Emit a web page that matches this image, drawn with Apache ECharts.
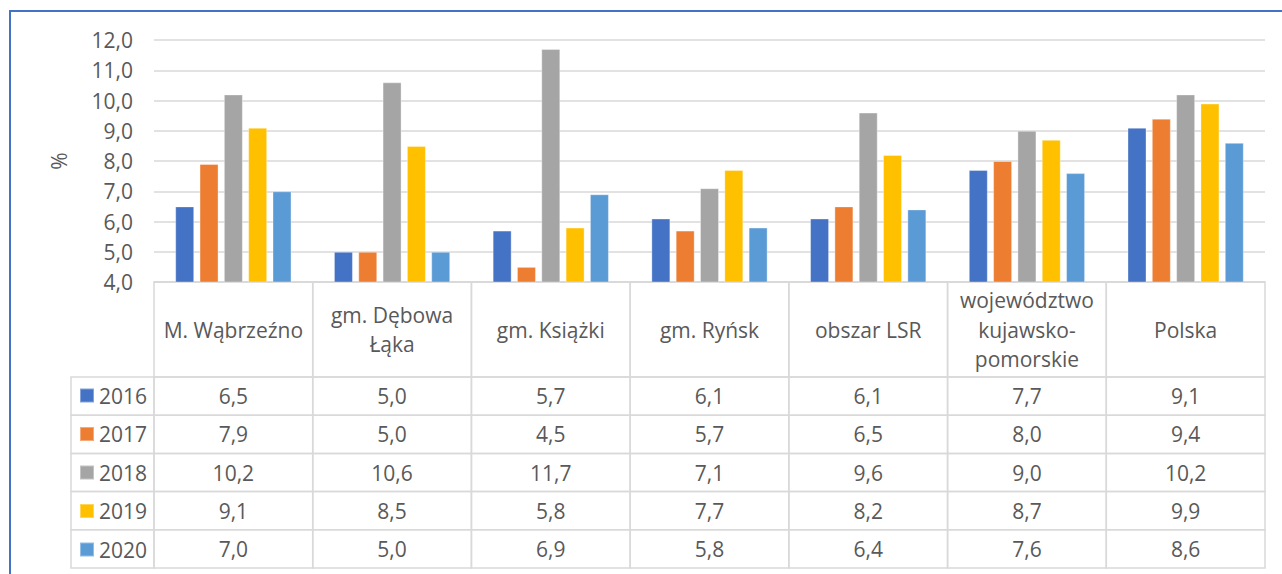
<!DOCTYPE html>
<html lang="pl">
<head>
<meta charset="utf-8">
<title>Stopa bezrobocia</title>
<script src="https://cdn.jsdelivr.net/npm/echarts@6/dist/echarts.min.js"></script>
<style>
  html, body { margin: 0; padding: 0; background: #fff; }
  #chart { width: 1282px; height: 574px; }
</style>
</head>
<body>
<div id="chart"></div>
<script>
  // dane
  const categories = ['M. Wąbrzeźno', 'gm. Dębowa\nŁąka', 'gm. Książki', 'gm. Ryńsk', 'obszar LSR', 'województwo\nkujawsko-\npomorskie', 'Polska'];
  const years = ['2016', '2017', '2018', '2019', '2020'];
  const v2016 = [6.5, 5.0, 5.7, 6.1, 6.1, 7.7, 9.1];
  const v2017 = [7.9, 5.0, 4.5, 5.7, 6.5, 8.0, 9.4];
  const v2018 = [10.2, 10.6, 11.7, 7.1, 9.6, 9.0, 10.2];
  const v2019 = [9.1, 8.5, 5.8, 7.7, 8.2, 8.7, 9.9];
  const v2020 = [7.0, 5.0, 6.9, 5.8, 6.4, 7.6, 8.6];
  const yearValues = [v2016, v2017, v2018, v2019, v2020];

  const colors = ['#4472C4', '#ED7D31', '#A5A5A5', '#FFC000', '#5B9BD5'];
  const FONT = '"Open Sans", "Noto Sans", sans-serif';
  const TXT = '#595959';
  const LINE = '#D9D9D9';
  const HEAD_H = 95, ROW_H = 38.2, LEG_W = 83;

  const fmt = v => v.toFixed(1).replace('.', ',');

  // tabela danych pod wykresem
  const tableData = [];
  categories.forEach((c, ci) => {
    for (let ri = 0; ri <= years.length; ri++) tableData.push([ci, 4, ri]);
  });

  function renderCell(params, api) {
    const ci = api.value(0), ri = api.value(2);
    const base = api.coord([ci, 4]);
    const w = api.size([1, 0])[0];
    const x0 = base[0] - w / 2;
    const top = base[1] + (ri === 0 ? 0 : HEAD_H + (ri - 1) * ROW_H);
    const h = ri === 0 ? HEAD_H : ROW_H;
    const label = ri === 0 ? categories[ci] : fmt(yearValues[ri - 1][ci]);
    const lineStyle = { fill: 'none', stroke: LINE, lineWidth: 1.5 };
    const children = [
      { type: 'rect', shape: { x: x0, y: top, width: w, height: h }, style: lineStyle },
      { type: 'text', x: base[0], y: top + h / 2,
        style: { text: label, fill: TXT, font: '21px ' + FONT, align: 'center', verticalAlign: 'middle', lineHeight: 29.5 } }
    ];
    if (ci === 0 && ri > 0) {
      children.push({ type: 'rect', shape: { x: x0 - LEG_W, y: top, width: LEG_W, height: h }, style: lineStyle });
    }
    return { type: 'group', children };
  }

  const barSeries = years.map((y, i) => ({
    name: y,
    type: 'bar',
    data: yearValues[i],
    barWidth: 19,
    barGap: '28%',
    itemStyle: { color: colors[i], borderColor: 'rgba(255,255,255,0.35)', borderWidth: 1 }
  }));

  const chart = echarts.init(document.getElementById('chart'), null, { renderer: 'svg' });
  chart.setOption({
    animation: false,
    textStyle: { fontFamily: FONT },
    grid: { left: 154, right: 17, top: 40, height: 242 },
    legend: {
      data: years,
      orient: 'vertical',
      left: 79,
      top: 385,
      padding: 0,
      itemWidth: 14,
      itemHeight: 14,
      itemGap: 17.5,
      icon: 'rect',
      textStyle: { fontSize: 21, color: TXT, fontFamily: FONT }
    },
    xAxis: {
      type: 'category',
      data: categories,
      axisLine: { lineStyle: { color: LINE, width: 1.5 } },
      axisTick: { show: false },
      axisLabel: { show: false }
    },
    yAxis: {
      type: 'value',
      min: 4,
      max: 12,
      interval: 1,
      name: '%',
      nameLocation: 'middle',
      nameRotate: 90,
      nameGap: 85,
      nameTextStyle: { fontSize: 21, color: TXT },
      axisLabel: { formatter: fmt, fontSize: 21, color: TXT, margin: 21 },
      splitLine: { lineStyle: { color: LINE, width: 1.5 } }
    },
    series: barSeries.concat([{
      type: 'custom',
      renderItem: renderCell,
      data: tableData,
      encode: { x: 0, y: 1 },
      silent: true
    }]),
    graphic: [{
      type: 'rect',
      shape: { x: 10, y: 11, width: 1400, height: 700 },
      style: { fill: 'none', stroke: '#4472C4', lineWidth: 2 },
      silent: true
    }]
  });
</script>
</body>
</html>
